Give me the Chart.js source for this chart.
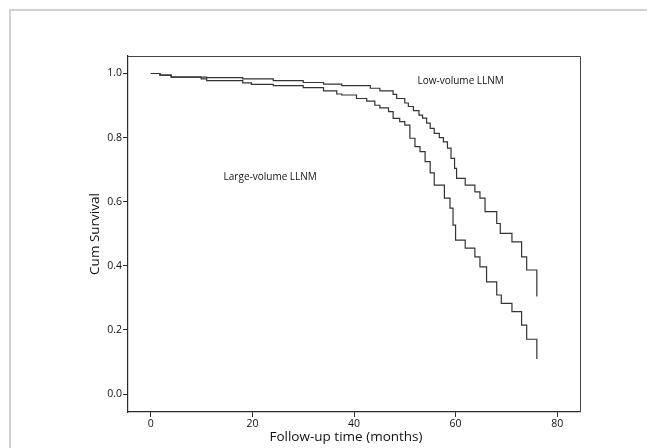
<!DOCTYPE html>
<html>
<head>
<meta charset="utf-8">
<script src="https://cdn.jsdelivr.net/npm/chart.js@4.4.0/dist/chart.umd.min.js"></script>
<style>
  html, body { margin: 0; padding: 0; background: #fff; overflow: hidden; }
  #wrap { position: relative; width: 647px; height: 448px; }
  #frame {
    position: absolute; left: 9px; top: 9px; right: -10px; bottom: -10px;
    border-top: 2px solid #d2d2d2; border-left: 2px solid #d2d2d2;
  }
  canvas { position: absolute; left: 0; top: 0; }
</style>
</head>
<body>
<div id="wrap">
  <div id="frame"></div>
  <canvas id="km"></canvas>
</div>
<script>
// Kaplan-Meier steps: time of event (months) and survival after it
const lowMonths = [0, 1.8, 4, 11, 18.1, 24.1, 30, 34, 37.6, 43.2, 45.1, 47.7, 48.4, 50, 50.7,
  51.7, 52.8, 53.5, 54.3, 55, 55.8, 56.8, 57.6, 58.4, 59.1, 59.8, 60.2, 61.9, 63.8, 64.8,
  65.8, 68.1, 68.8, 71.1, 73.0, 74.0, 76.0];
const lowSurv = [1.0, 0.995, 0.989, 0.987, 0.983, 0.978, 0.972, 0.967, 0.962, 0.954, 0.946,
  0.935, 0.922, 0.908, 0.897, 0.884, 0.870, 0.861, 0.845, 0.829, 0.813, 0.800, 0.787, 0.767,
  0.735, 0.704, 0.673, 0.652, 0.631, 0.611, 0.569, 0.532, 0.501, 0.475, 0.428, 0.387, 0.304];

const largeMonths = [0, 1.8, 4, 9.9, 11, 18.1, 19.8, 24.1, 30, 34, 36.6, 37.6, 40.5, 42.5,
  44.1, 45.1, 46.8, 47.7, 49, 50, 51, 52, 53, 54, 55, 55.8, 57.8, 58.9, 59.5, 60, 61.9,
  63.8, 64.8, 66.1, 68.1, 69, 71.1, 73.0, 74.0, 76.0];
const largeSurv = [1.0, 0.995, 0.989, 0.983, 0.978, 0.971, 0.966, 0.962, 0.956, 0.946, 0.936,
  0.933, 0.922, 0.914, 0.901, 0.893, 0.881, 0.860, 0.850, 0.839, 0.798, 0.772, 0.756, 0.725,
  0.690, 0.652, 0.611, 0.580, 0.527, 0.480, 0.455, 0.428, 0.397, 0.350, 0.309, 0.283, 0.257,
  0.215, 0.171, 0.109];

const xTicks = [0, 20, 40, 60, 80];
const yTicks = [0, 0.2, 0.4, 0.6, 0.8, 1.0];

const FONT = "'Open Sans', 'DejaVu Sans', sans-serif";
const INK = "#2b2b2b";

function toPoints(xs, ys) {
  return xs.map((x, i) => ({ x, y: ys[i] }));
}

// group labels placed in data coordinates
const groupLabels = [
  { text: "Low-volume LLNM", x: 61.0, y: 0.977 },
  { text: "Large-volume LLNM", x: 23.5, y: 0.676 },
];

const boxAndLabels = {
  id: "boxAndLabels",
  afterDatasetsDraw(chart) {
    const { ctx, chartArea: a, scales } = chart;
    ctx.save();
    ctx.strokeStyle = "#444";
    ctx.lineWidth = 1;
    ctx.beginPath();
    ctx.moveTo(a.left, a.top + 0.5);
    ctx.lineTo(a.right + 0.5, a.top + 0.5);
    ctx.lineTo(a.right + 0.5, a.bottom);
    ctx.stroke();

    ctx.fillStyle = "#111";
    ctx.font = "10px " + FONT;
    ctx.textAlign = "center";
    ctx.textBaseline = "middle";
    for (const g of groupLabels) {
      ctx.fillText(g.text, scales.x.getPixelForValue(g.x), scales.y.getPixelForValue(g.y));
    }

    // x axis title, slightly left of the axis centre as in the original
    ctx.font = "13.5px " + FONT;
    ctx.fillText("Follow-up time (months)", 346, 437);
    ctx.restore();
  },
};

const lineStyle = {
  borderColor: "#333",
  borderWidth: 1.2,
  pointRadius: 0,
  stepped: "before",
  fill: false,
};

new Chart(document.getElementById("km").getContext("2d"), {
  type: "line",
  data: {
    datasets: [
      Object.assign({ label: "Low-volume LLNM", data: toPoints(lowMonths, lowSurv) }, lineStyle),
      Object.assign({ label: "Large-volume LLNM", data: toPoints(largeMonths, largeSurv) }, lineStyle),
    ],
  },
  options: {
    responsive: true,
    maintainAspectRatio: false,
    animation: false,
    layout: { padding: { left: 0, top: 56, right: 67, bottom: 0 } },
    plugins: { legend: { display: false }, tooltip: { enabled: false } },
    scales: {
      x: {
        type: "linear",
        min: -4.5,
        max: 84.5,
        afterBuildTicks: (s) => { s.ticks = xTicks.map((v) => ({ value: v })); },
        afterFit: (s) => { s.height = 36; },
        grid: { drawOnChartArea: false, tickLength: 5, color: INK },
        border: { color: INK, width: 1.2 },
        ticks: {
          color: "#111", padding: 1, maxRotation: 0,
          font: { family: FONT, size: 10.5 },
          callback: (v) => String(v),
        },
      },
      y: {
        type: "linear",
        min: -0.056,
        max: 1.0546,
        afterBuildTicks: (s) => { s.ticks = yTicks.map((v) => ({ value: v })); },
        afterFit: (s) => { s.width = 128; },
        grid: { drawOnChartArea: false, tickLength: 5, color: INK },
        border: { color: INK, width: 1.2 },
        ticks: {
          color: "#111", padding: 1,
          font: { family: FONT, size: 10.5 },
          callback: (v) => Number(v).toFixed(1),
        },
        title: {
          display: true, text: "Cum Survival", color: "#111",
          font: { family: FONT, size: 13.5 }, padding: { top: 87 },
        },
      },
    },
  },
  plugins: [boxAndLabels],
});
</script>
</body>
</html>
